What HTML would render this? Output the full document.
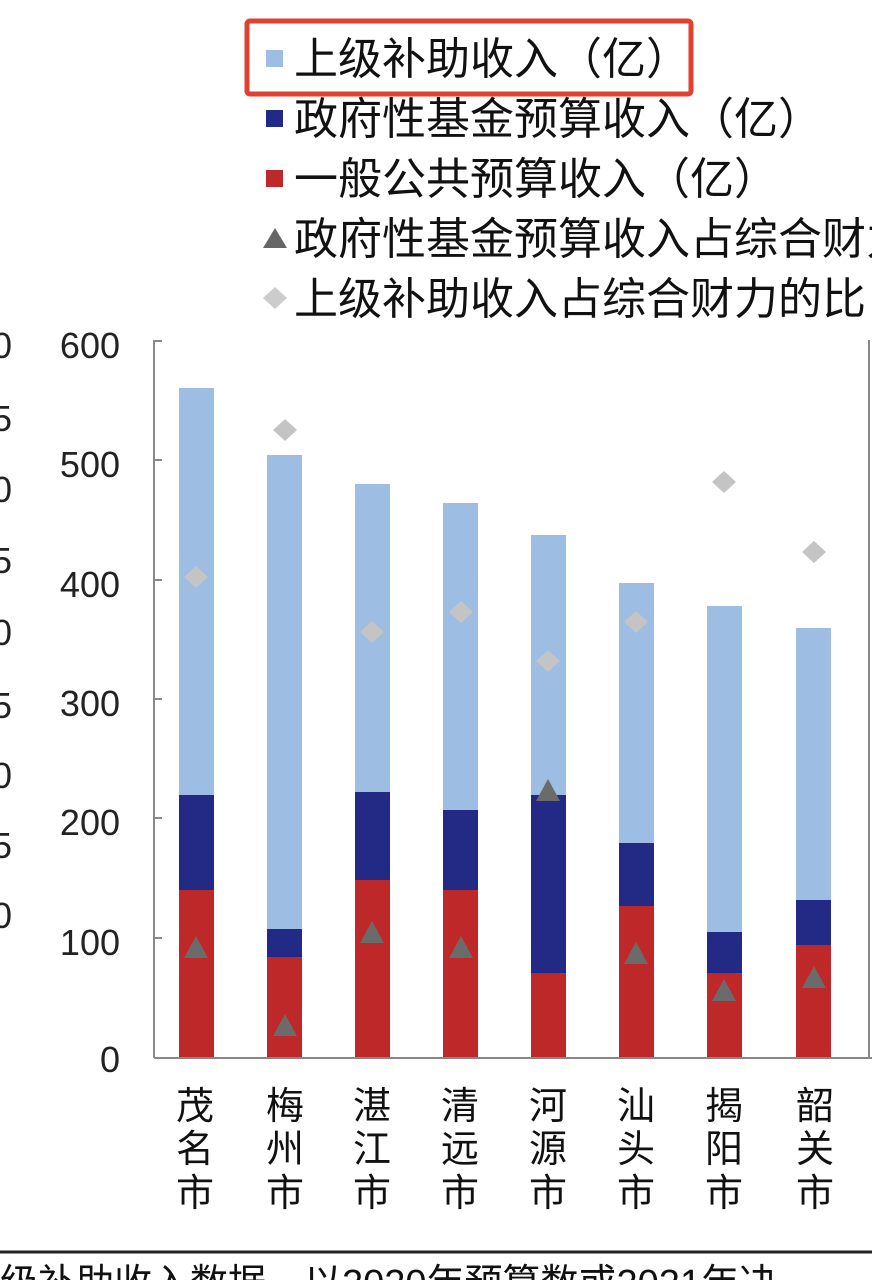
<!DOCTYPE html>
<html><head><meta charset="utf-8"><style>
html,body{margin:0;padding:0;background:#fff;}
svg{display:block;}
text{font-family:"Liberation Sans","Noto Sans CJK SC",sans-serif;}
</style></head><body>
<svg width="872" height="1280" viewBox="0 0 872 1280" xmlns="http://www.w3.org/2000/svg">
<rect width="872" height="1280" fill="#fff"/>
<g font-size="44" fill="#111">
<rect x="266" y="50" width="17" height="17" fill="#9DBDE3"/>
<text x="294" y="74">上级补助收入（亿）</text>
<rect x="266" y="110" width="17" height="17" fill="#232A85"/>
<text x="294" y="134">政府性基金预算收入（亿）</text>
<rect x="266" y="170" width="17" height="17" fill="#BE2828"/>
<text x="294" y="194">一般公共预算收入（亿）</text>
<polygon points="275,228 263,248 287,248" fill="#666"/>
<text x="294" y="254">政府性基金预算收入占综合财力的比</text>
<polygon points="275,287 287,298 275,309 263,298" fill="#ccc"/>
<text x="294" y="314">上级补助收入占综合财力的比</text>
</g>
<rect x="247" y="21" width="444" height="73" fill="none" stroke="#E0402F" stroke-width="5" rx="3"/>
<g font-size="36" fill="#222">
<text x="-8" y="358">0</text><text x="-8" y="431">5</text><text x="-8" y="502">0</text><text x="-8" y="573">5</text><text x="-8" y="645">0</text><text x="-8" y="718">5</text><text x="-8" y="788">0</text><text x="-8" y="858">5</text><text x="-8" y="928">0</text>
</g>
<g font-size="36" fill="#222" text-anchor="end">
<text x="120" y="358">600</text><text x="120" y="477">500</text><text x="120" y="597">400</text><text x="120" y="716">300</text><text x="120" y="835">200</text><text x="120" y="955">100</text><text x="120" y="1072">0</text>
</g>
<g stroke="#888" stroke-width="2">
<line x1="154" y1="340" x2="154" y2="1058"/>
<line x1="154" y1="1058" x2="872" y2="1058"/>
<line x1="154" y1="341" x2="162" y2="341"/><line x1="154" y1="460" x2="162" y2="460"/><line x1="154" y1="580" x2="162" y2="580"/><line x1="154" y1="699" x2="162" y2="699"/><line x1="154" y1="818" x2="162" y2="818"/><line x1="154" y1="938" x2="162" y2="938"/>
<line x1="869" y1="340" x2="869" y2="1058"/>
</g>
<g>
<rect x="179" y="388" width="35" height="407" fill="#9DBDE3"/><rect x="179" y="795" width="35" height="95" fill="#232A85"/><rect x="179" y="890" width="35" height="167" fill="#BE2828"/>
<rect x="267" y="455" width="35" height="474" fill="#9DBDE3"/><rect x="267" y="929" width="35" height="28" fill="#232A85"/><rect x="267" y="957" width="35" height="100" fill="#BE2828"/>
<rect x="355" y="484" width="35" height="308" fill="#9DBDE3"/><rect x="355" y="792" width="35" height="88" fill="#232A85"/><rect x="355" y="880" width="35" height="177" fill="#BE2828"/>
<rect x="443" y="503" width="35" height="307" fill="#9DBDE3"/><rect x="443" y="810" width="35" height="80" fill="#232A85"/><rect x="443" y="890" width="35" height="167" fill="#BE2828"/>
<rect x="531" y="535" width="35" height="260" fill="#9DBDE3"/><rect x="531" y="795" width="35" height="178" fill="#232A85"/><rect x="531" y="973" width="35" height="84" fill="#BE2828"/>
<rect x="619" y="583" width="35" height="260" fill="#9DBDE3"/><rect x="619" y="843" width="35" height="63" fill="#232A85"/><rect x="619" y="906" width="35" height="151" fill="#BE2828"/>
<rect x="707" y="606" width="35" height="326" fill="#9DBDE3"/><rect x="707" y="932" width="35" height="41" fill="#232A85"/><rect x="707" y="973" width="35" height="84" fill="#BE2828"/>
<rect x="796" y="628" width="35" height="272" fill="#9DBDE3"/><rect x="796" y="900" width="35" height="45" fill="#232A85"/><rect x="796" y="945" width="35" height="112" fill="#BE2828"/>
</g>
<g fill="#6b6b6b">
<polygon points="196,936 184,958 208,958"/>
<polygon points="285,1014 273,1036 297,1036"/>
<polygon points="372,921 360,943 384,943"/>
<polygon points="461,936 449,958 473,958"/>
<polygon points="548,779 536,801 560,801"/>
<polygon points="636,942 624,964 648,964"/>
<polygon points="724,979 712,1001 736,1001"/>
<polygon points="814,966 802,988 826,988"/>
</g>
<g fill="#c4c4c4">
<polygon points="196,566 208,577 196,588 184,577"/>
<polygon points="285,419 297,430 285,441 273,430"/>
<polygon points="372,621 384,632 372,643 360,632"/>
<polygon points="461,601 473,612 461,623 449,612"/>
<polygon points="548,650 560,661 548,672 536,661"/>
<polygon points="636,611 648,622 636,633 624,622"/>
<polygon points="724,471 736,482 724,493 712,482"/>
<polygon points="814,541 826,552 814,563 802,552"/>
</g>
<g font-size="38" fill="#111" text-anchor="middle">
<text x="195" y="1119">茂</text><text x="195" y="1162">名</text><text x="195" y="1206">市</text>
<text x="285" y="1119">梅</text><text x="285" y="1162">州</text><text x="285" y="1206">市</text>
<text x="372" y="1119">湛</text><text x="372" y="1162">江</text><text x="372" y="1206">市</text>
<text x="460" y="1119">清</text><text x="460" y="1162">远</text><text x="460" y="1206">市</text>
<text x="548" y="1119">河</text><text x="548" y="1162">源</text><text x="548" y="1206">市</text>
<text x="636" y="1119">汕</text><text x="636" y="1162">头</text><text x="636" y="1206">市</text>
<text x="724" y="1119">揭</text><text x="724" y="1162">阳</text><text x="724" y="1206">市</text>
<text x="815" y="1119">韶</text><text x="815" y="1162">关</text><text x="815" y="1206">市</text>
</g>
<line x1="0" y1="1252" x2="872" y2="1252" stroke="#222" stroke-width="3"/>
<text x="0" y="1296" font-size="38" fill="#111">级补助收入数据，以2020年预算数或2021年决</text>
</svg>
</body></html>
